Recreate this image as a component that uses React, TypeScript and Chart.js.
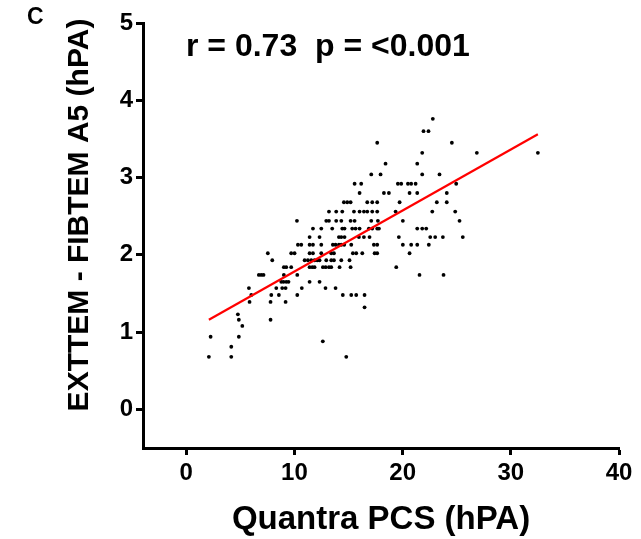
import React, { useEffect, useRef } from 'react';
import { Chart, registerables } from 'chart.js';

Chart.register(...registerables);

// EXTTEM - FIBTEM A5 (hPA) levels, and Quantra PCS (hPA) values at each level
const diffLevels = [3.76, 3.6, 3.45, 3.32, 3.18, 3.04, 2.92, 2.8, 2.68, 2.56, 2.44, 2.34, 2.23, 2.13, 2.02, 1.93, 1.84, 1.74, 1.65, 1.57, 1.48, 1.39, 1.32, 1.23, 1.16, 1.08, 0.94, 0.88, 0.81, 0.68];
const pcsByLevel = [
  [22.79],
  [21.93, 22.39],
  [17.65, 24.55],
  [21.81, 26.86, 32.5],
  [18.42, 21.35],
  [17.1, 17.96, 21.81, 23.41],
  [15.56, 16.17, 19.56, 19.87, 20.49, 20.79, 21.2, 24.95],
  [16.02, 18.27, 18.73, 20.64, 21.35, 24.08],
  [14.57, 14.88, 15.19, 16.73, 17.19, 17.65, 19.72, 23.16, 24.08],
  [13.19, 13.86, 14.42, 15.5, 16.02, 16.42, 16.73, 17.19, 17.65, 19.35, 22.74, 24.86],
  [10.23, 12.94, 13.19, 13.86, 14.33, 15.19, 15.56, 17.1, 17.71, 20.02, 25.26],
  [11.71, 12.48, 13.49, 14.42, 14.63, 15.34, 15.65, 16.02, 16.88, 17.19, 17.65, 17.81, 21.35, 21.81, 22.18],
  [11.4, 12.32, 14.11, 14.33, 14.63, 15.96, 16.42, 16.94, 19.65, 22.55, 23.01, 23.72, 25.56],
  [10.32, 10.63, 11.4, 11.71, 12.48, 13.55, 13.8, 14.11, 14.33, 14.6, 15.25, 17.34, 17.65, 20.02, 20.79, 21.35, 22.42],
  [7.54, 9.7, 10.01, 11.4, 11.71, 12.48, 13.4, 13.65, 15.4, 15.71, 16.27, 17.41, 17.65, 20.64],
  [7.95, 10.94, 11.24, 11.55, 11.86, 12.11, 12.32, 12.94, 13.4, 13.65, 14.33, 15.09],
  [9.02, 9.24, 9.7, 11.4, 11.65, 11.86, 12.63, 12.88, 13.19, 13.4, 14.17, 15.19, 19.41],
  [6.71, 6.93, 7.14, 9.02, 10.26, 21.56, 23.78],
  [8.78, 8.99, 9.24, 9.45, 11.4, 12.32],
  [5.79, 8.32, 8.87, 9.18, 10.68, 12.87, 13.8],
  [6.01, 7.86, 8.56, 10.26, 14.47, 15.25, 15.71, 16.48],
  [5.85, 7.79, 9.18],
  [16.48],
  [4.77],
  [4.86, 7.79],
  [5.18],
  [2.25, 4.86],
  [12.62],
  [4.16],
  [2.09, 4.16, 14.79],
];

// Linear regression fit
const fitSlope = 0.0789;
const fitIntercept = 0.995;
const fitRange = [2.09, 32.5];

const xTicks = [0, 10, 20, 30, 40];
const yTicks = [0, 1, 2, 3, 4, 5];

const statsText = 'r = 0.73  p = <0.001';
const panelLabel = 'C';
const xTitle = 'Quantra PCS (hPA)';
const yTitle = 'EXTTEM - FIBTEM A5 (hPA)';

const FONT = '"Liberation Sans", Arial, Helvetica, sans-serif';

export default function App() {
  const ref = useRef<HTMLCanvasElement>(null);

  useEffect(() => {
    if (!ref.current) return;
    const points = diffLevels.flatMap((y, i) => pcsByLevel[i].map((x) => ({ x, y })));
    const fit = fitRange.map((x) => ({ x, y: fitIntercept + fitSlope * x }));

    const textPlugin = {
      id: 'panelTexts',
      afterDraw(chart: any) {
        const { ctx, chartArea: a } = chart;
        ctx.save();
        ctx.fillStyle = '#000';
        ctx.textBaseline = 'middle';
        ctx.textAlign = 'left';
        ctx.font = `bold 32px ${FONT}`;
        ctx.fillText(statsText, 186, 47);
        ctx.font = `bold 23px ${FONT}`;
        ctx.fillText(panelLabel, 27, 18);
        ctx.textAlign = 'center';
        ctx.font = `bold 33px ${FONT}`;
        ctx.fillText(xTitle, (a.left + a.right) / 2, 520);
        ctx.translate(80, 215);
        ctx.rotate(-Math.PI / 2);
        ctx.font = `bold 30px ${FONT}`;
        ctx.fillText(yTitle, 0, 0);
        ctx.restore();
      },
    };

    const axisCommon = {
      type: 'linear' as const,
      grid: {
        display: true,
        drawOnChartArea: false,
        drawTicks: true,
        tickLength: 7,
        tickWidth: 3,
        tickColor: '#000',
        color: '#000',
      },
      border: { display: true, color: '#000', width: 3 },
    };

    const chart = new Chart(ref.current, {
      type: 'scatter',
      data: {
        datasets: [
          {
            type: 'line',
            data: fit,
            borderColor: '#ff0000',
            borderWidth: 2.2,
            pointRadius: 0,
            fill: false,
          } as any,
          {
            data: points,
            pointRadius: 1.9,
            pointBorderWidth: 0,
            backgroundColor: '#000',
            borderColor: '#000',
          },
        ],
      },
      options: {
        responsive: false,
        animation: false,
        events: [],
        layout: { padding: { top: 23, right: 22, left: 0, bottom: 0 } },
        plugins: { legend: { display: false }, tooltip: { enabled: false } },
        scales: {
          x: {
            ...axisCommon,
            min: -4,
            max: 40,
            afterBuildTicks: (s: any) => {
              s.ticks = xTicks.map((v) => ({ value: v }));
            },
            afterFit: (s: any) => {
              s.height = 91;
            },
            ticks: {
              color: '#000',
              padding: 4,
              maxRotation: 0,
              autoSkip: false,
              font: { family: FONT, size: 24, weight: 'bold' },
            },
          },
          y: {
            ...axisCommon,
            min: -0.5,
            max: 5,
            afterBuildTicks: (s: any) => {
              s.ticks = yTicks.map((v) => ({ value: v }));
            },
            afterFit: (s: any) => {
              s.width = 143;
            },
            ticks: {
              color: '#000',
              padding: 3,
              autoSkip: false,
              font: { family: FONT, size: 24, weight: 'bold' },
            },
          },
        },
      },
      plugins: [textPlugin],
    });
    return () => chart.destroy();
  }, []);

  return (
    <div style={{ position: 'absolute', left: 0, top: 0, width: 641, height: 539, background: '#fff' }}>
      <canvas ref={ref} width={641} height={539} />
    </div>
  );
}
